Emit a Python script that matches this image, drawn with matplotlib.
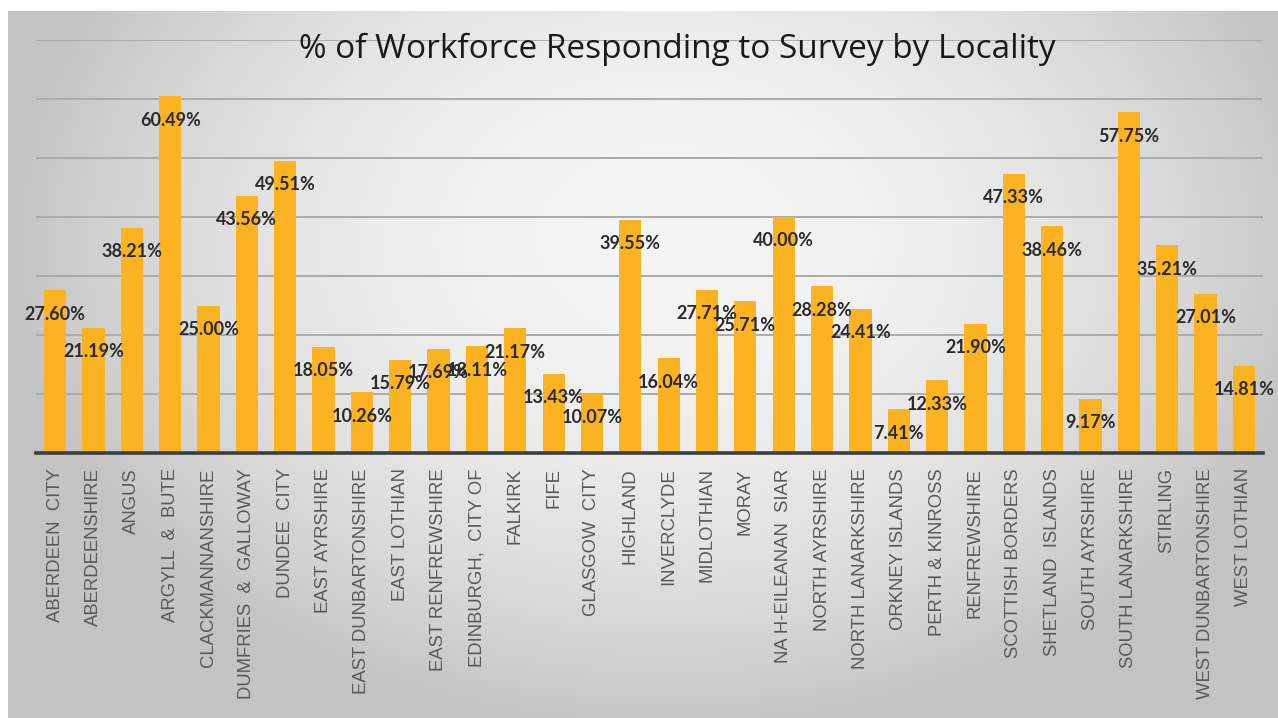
import numpy as np
import matplotlib
matplotlib.use("Agg")
import matplotlib.pyplot as plt

categories = [
    "ABERDEEN  CITY", "ABERDEENSHIRE", "ANGUS", "ARGYLL  &  BUTE", "CLACKMANNANSHIRE",
    "DUMFRIES  &  GALLOWAY", "DUNDEE  CITY", "EAST AYRSHIRE", "EAST DUNBARTONSHIRE",
    "EAST LOTHIAN", "EAST RENFREWSHIRE", "EDINBURGH,  CITY OF", "FALKIRK", "FIFE",
    "GLASGOW  CITY", "HIGHLAND", "INVERCLYDE", "MIDLOTHIAN", "MORAY",
    "NA H-EILEANAN  SIAR", "NORTH AYRSHIRE", "NORTH LANARKSHIRE", "ORKNEY ISLANDS",
    "PERTH & KINROSS", "RENFREWSHIRE", "SCOTTISH BORDERS", "SHETLAND  ISLANDS",
    "SOUTH AYRSHIRE", "SOUTH LANARKSHIRE", "STIRLING", "WEST DUNBARTONSHIRE",
    "WEST LOTHIAN",
]
values = [
    27.60, 21.19, 38.21, 60.49, 25.00, 43.56, 49.51, 18.05, 10.26, 15.79,
    17.69, 18.11, 21.17, 13.43, 10.07, 39.55, 16.04, 27.71, 25.71, 40.00,
    28.28, 24.41, 7.41, 12.33, 21.90, 47.33, 38.46, 9.17, 57.75, 35.21,
    27.01, 14.81,
]
title = "% of Workforce Responding to Survey by Locality"

W, H = 1278, 718
fig = plt.figure(figsize=(W / 100, H / 100), dpi=100)
fig.patch.set_facecolor("white")

# gradient background panel
bg = fig.add_axes([8 / W, 0, (W - 8) / W, (H - 11) / H], zorder=-10)
yy, xx = np.mgrid[0:H - 11, 0:W - 8]
cx, cy = 660, 230
r2 = ((xx - cx) / 700.0) ** 2 + ((yy - cy) / 520.0) ** 2
g = np.clip(245 - 55 * r2, 195, 245) / 255.0
img = np.dstack([g, g, g])
bg.imshow(img, aspect="auto", extent=[0, 1, 0, 1], origin="upper")
bg.set_axis_off()

ax = fig.add_axes([36 / W, (H - 453) / H, 1227 / W, 413 / H])
ax.patch.set_alpha(0)
x = np.arange(len(categories))
bars = ax.bar(x, values, width=0.58, color="#FBB321", zorder=3)
ax.set_xlim(-0.5, len(categories) - 0.5)
ax.set_ylim(0, 70)
ax.set_yticks(np.arange(0, 71, 10))
ax.yaxis.grid(True, color="#ababab", linewidth=1.4, zorder=0)
ax.tick_params(axis="y", left=False, labelleft=False)
for s in ["top", "right", "left"]:
    ax.spines[s].set_visible(False)
ax.spines["bottom"].set_color("#3a3f44")
ax.spines["bottom"].set_linewidth(2.6)
ax.spines["bottom"].set_zorder(5)

ax.set_xticks(x)
ax.set_xticklabels(categories, rotation=90, fontsize=13.3, color="#595959",
                   family="Liberation Sans", va="top", ha="center")
ax.tick_params(axis="x", length=0, pad=11)

for xi, v in zip(x, values):
    ax.annotate(f"{v:.2f}%", (xi, v), xytext=(0, -24), textcoords="offset pixels",
                ha="center", va="center", fontsize=13, fontweight="bold",
                family="Lato", color="#2b2b2b", zorder=6)

fig.text(677 / W, 1 - 49 / H, title, ha="center", va="center", fontsize=24,
         family="Open Sans", color="#1a1a1a")

fig.savefig("out.png", dpi=100)
